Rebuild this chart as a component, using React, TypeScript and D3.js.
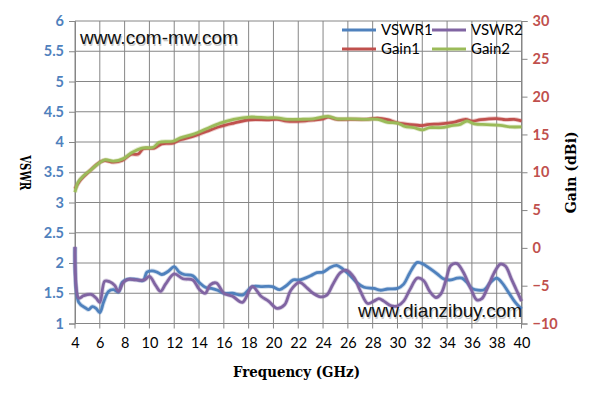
import React, { useEffect } from "react";
import * as d3 from "d3";

// frequency ticks (GHz)
const freqTicks = [4, 6, 8, 10, 12, 14, 16, 18, 20, 22, 24, 26, 28, 30, 32, 34, 36, 38, 40];
const vswrTicks = [1, 1.5, 2, 2.5, 3, 3.5, 4, 4.5, 5, 5.5, 6];
const gainTicks = [-10, -5, 0, 5, 10, 15, 20, 25, 30];

const vswr1Freq = [4, 4.3, 4.9, 5.1, 5.4, 5.7, 6, 6.3, 6.7, 7.1, 7.5, 7.8, 8.2, 8.9, 9.5, 9.8, 10.2, 10.6, 11, 11.5, 12, 12.4, 12.8, 13.5, 14, 14.5, 15, 15.5, 16, 16.7, 17.5, 18.3, 19.1, 19.9, 20.5, 21, 21.6, 22.1, 23, 23.5, 24, 24.6, 25.1, 25.6, 26.2, 26.7, 27.3, 28.1, 28.6, 29.2, 30, 30.5, 31, 31.6, 32.1, 32.6, 33.2, 33.7, 34.3, 34.8, 35.2, 35.6, 36, 36.5, 37, 37.5, 38, 38.4, 39, 39.5, 40];
const vswr1 = [2.26, 1.35, 1.25, 1.23, 1.28, 1.25, 1.18, 1.35, 1.53, 1.56, 1.52, 1.68, 1.73, 1.73, 1.71, 1.85, 1.87, 1.85, 1.81, 1.86, 1.94, 1.85, 1.81, 1.79, 1.68, 1.6, 1.58, 1.55, 1.5, 1.5, 1.47, 1.61, 1.61, 1.61, 1.56, 1.62, 1.72, 1.72, 1.79, 1.84, 1.85, 1.93, 1.96, 1.9, 1.79, 1.68, 1.6, 1.58, 1.55, 1.57, 1.58, 1.65, 1.84, 2.01, 1.98, 1.91, 1.82, 1.74, 1.72, 1.75, 1.75, 1.68, 1.58, 1.55, 1.56, 1.68, 1.75, 1.68, 1.5, 1.35, 1.24];

const vswr2Freq = [4, 4.3, 4.7, 5.3, 5.7, 6, 6.4, 6.8, 7.2, 7.5, 7.9, 8.3, 8.9, 9.6, 10, 10.5, 10.9, 11.3, 12, 12.7, 13.5, 14, 14.5, 14.9, 15.4, 16, 16.7, 17.5, 18.3, 19, 19.6, 20.3, 20.9, 21.4, 22.1, 22.7, 23.2, 23.8, 24.3, 24.8, 25.4, 25.9, 26.5, 27, 27.6, 28.1, 28.5, 28.9, 29.5, 30, 30.5, 31, 31.6, 32.1, 32.6, 33.1, 33.5, 33.9, 34.3, 34.8, 35.3, 35.9, 36.4, 36.8, 37.2, 37.8, 38.3, 38.7, 39.2, 39.6, 40];
const vswr2 = [2.27, 1.42, 1.46, 1.48, 1.42, 1.35, 1.7, 1.69, 1.63, 1.53, 1.68, 1.73, 1.72, 1.72, 1.78, 1.63, 1.53, 1.65, 1.82, 1.74, 1.72, 1.57, 1.5, 1.64, 1.67, 1.5, 1.45, 1.35, 1.61, 1.45, 1.37, 1.25, 1.31, 1.55, 1.68, 1.59, 1.5, 1.44, 1.47, 1.65, 1.84, 1.88, 1.76, 1.54, 1.33, 1.37, 1.41, 1.37, 1.29, 1.29, 1.37, 1.56, 1.75, 1.71, 1.53, 1.43, 1.49, 1.71, 1.96, 1.99, 1.85, 1.58, 1.39, 1.41, 1.56, 1.84, 1.98, 1.95, 1.73, 1.55, 1.37];

const gain1Freq = [4, 4.4, 5.2, 6, 6.4, 7.1, 7.8, 8.5, 9.1, 9.5, 10.4, 11, 11.9, 12.5, 13.5, 14.6, 15.7, 16.8, 18.1, 19.5, 20.3, 21.1, 22.2, 23.2, 24, 24.4, 25.1, 26.2, 27.5, 28.4, 29.2, 30, 31, 32, 32.4, 33.5, 34.5, 35.5, 36, 36.7, 38, 38.7, 39.4, 40];
const gain1 = [7.8, 8.9, 10.2, 11.33, 11.55, 11.33, 11.55, 12.35, 12.4, 13.1, 13.2, 13.76, 13.85, 14.3, 14.73, 15.4, 16.05, 16.5, 16.94, 16.94, 17.0, 16.75, 16.75, 16.9, 17.07, 17.3, 17.0, 17.0, 17.0, 17.15, 16.95, 16.54, 16.3, 16.18, 16.3, 16.4, 16.6, 17.0, 16.75, 16.95, 17.1, 16.95, 17.0, 16.8];

const gain2Freq = [4, 4.25, 4.65, 5.2, 5.7, 6.4, 7.1, 7.9, 8.55, 9.4, 10.3, 10.8, 11.9, 12.5, 13.5, 14.6, 15.7, 16.8, 18.1, 19.5, 20.3, 21.1, 22.2, 23.2, 24.4, 25.1, 26.2, 27.5, 28.4, 29.2, 30, 30.6, 31.3, 32, 32.6, 33.5, 34.5, 35, 35.6, 36.2, 37.2, 38.3, 39.1, 40];
const gain2 = [7.35, 8.68, 9.47, 10.2, 10.9, 11.64, 11.46, 11.8, 12.57, 13.2, 13.3, 13.97, 14.1, 14.55, 15.0, 15.75, 16.5, 17.0, 17.3, 17.2, 17.2, 17.0, 17.0, 17.07, 17.4, 17.07, 17.07, 17.0, 17.0, 16.6, 16.5, 16.05, 15.9, 15.6, 15.9, 15.9, 16.2, 16.3, 16.75, 16.4, 16.3, 16.2, 16.0, 16.0];

const seriesNames = ["VSWR1", "VSWR2", "Gain1", "Gain2"];
const seriesColors = ["#4F81BD", "#8064A2", "#C0504D", "#9BBB59"];

function createChart(container: string) {
  d3.select(container).select("svg").remove();
  const W = 595,
    H = 404;
  const margin = { top: 21, right: 74, bottom: 81, left: 75 };

  const svg = d3
    .select(container)
    .append("svg")
    .attr("width", W)
    .attr("height", H)
    .style("position", "absolute")
    .style("left", "0px")
    .style("top", "0px")
    .style("background", "#fff");

  const x = d3
    .scaleLinear()
    .domain([4, 40])
    .range([margin.left, W - margin.right + 0.5]);
  const yV = d3
    .scaleLinear()
    .domain([1, 6])
    .range([H - margin.bottom + 0.5, margin.top]);
  const yG = d3
    .scaleLinear()
    .domain([-10, 30])
    .range([H - margin.bottom + 0.5, margin.top]);

  const grid = "#868686";
  const tickFont = "Lato, 'Open Sans', sans-serif";
  const titleFont = "'DejaVu Serif', 'Liberation Serif', serif";

  // gridlines
  svg
    .append("g")
    .selectAll("line")
    .data(vswrTicks)
    .join("line")
    .attr("x1", x(4))
    .attr("x2", x(40))
    .attr("y1", (d) => yV(d))
    .attr("y2", (d) => yV(d))
    .attr("stroke", grid)
    .attr("stroke-width", 1);
  svg
    .append("g")
    .selectAll("line")
    .data(freqTicks)
    .join("line")
    .attr("x1", (d) => x(d))
    .attr("x2", (d) => x(d))
    .attr("y1", yV(6))
    .attr("y2", yV(1) + 5)
    .attr("stroke", grid)
    .attr("stroke-width", 1);

  // left axis
  const left = svg
    .append("g")
    .attr("transform", `translate(${x(4)},0)`)
    .call(d3.axisLeft(yV).tickValues(vswrTicks).tickSize(6).tickPadding(5).tickFormat(d3.format("")));
  left.select(".domain").attr("stroke", grid);
  left.selectAll(".tick line").attr("stroke", grid);
  left
    .selectAll(".tick text")
    .attr("fill", "#4F81BD")
    .attr("font-family", tickFont)
    .attr("font-weight", "bold")
    .attr("font-size", 14.5);

  // right axis
  const right = svg
    .append("g")
    .attr("transform", `translate(${x(40)},0)`)
    .call(d3.axisRight(yG).tickValues(gainTicks).tickSize(6).tickPadding(5));
  right.select(".domain").attr("stroke", grid);
  right.selectAll(".tick line").attr("stroke", grid);
  right
    .selectAll(".tick text")
    .attr("fill", "#C0504D")
    .attr("font-family", tickFont)
    .attr("font-weight", "bold")
    .attr("font-size", 14.5);

  // bottom axis labels
  const bottom = svg
    .append("g")
    .attr("transform", `translate(0,${yV(1)})`)
    .call(d3.axisBottom(x).tickValues(freqTicks).tickSize(0).tickPadding(14));
  bottom.select(".domain").remove();
  bottom
    .selectAll(".tick text")
    .attr("fill", "#000")
    .attr("font-family", tickFont)
    .attr("font-size", 14.5);

  // series
  const line = d3
    .line<[number, number]>()
    .x((d) => x(d[0]))
    .y((d) => d[1])
    .curve(d3.curveCatmullRom.alpha(0.5));

  const series: [number, number][][] = [
    vswr1Freq.map((f, i) => [f, yV(vswr1[i])]),
    vswr2Freq.map((f, i) => [f, yV(vswr2[i])]),
    gain1Freq.map((f, i) => [f, yG(gain1[i])]),
    gain2Freq.map((f, i) => [f, yG(gain2[i])]),
  ];

  series.forEach((s, i) => {
    svg
      .append("path")
      .attr("d", line(s))
      .attr("fill", "none")
      .attr("stroke", seriesColors[i])
      .attr("stroke-opacity", 0.3)
      .attr("stroke-width", 4.5)
      .attr("stroke-linejoin", "round");
    svg
      .append("path")
      .attr("d", line(s))
      .attr("fill", "none")
      .attr("stroke", seriesColors[i])
      .attr("stroke-width", 2.8)
      .attr("stroke-linejoin", "round");
  });

  // watermarks
  const marks = [
    { text: "www.com-mw.com", x: 80, y: 44, len: 158 },
    { text: "www.dianzibuy.com", x: 358, y: 317, len: 164 },
  ];
  marks.forEach((m) => {
    svg
      .append("text")
      .attr("x", m.x + 1)
      .attr("y", m.y + 1.5)
      .attr("font-family", "'Liberation Sans', Arial, sans-serif")
      .attr("font-size", 19)
      .attr("textLength", m.len)
      .attr("fill", "#999")
      .attr("fill-opacity", 0.5)
      .text(m.text);
    svg
      .append("text")
      .attr("x", m.x)
      .attr("y", m.y)
      .attr("font-family", "'Liberation Sans', Arial, sans-serif")
      .attr("font-size", 19)
      .attr("textLength", m.len)
      .attr("fill", "#111")
      .text(m.text);
  });

  // legend
  const legendPos = [
    [342, 30],
    [432, 30],
    [342, 49],
    [432, 49],
  ];
  seriesNames.forEach((name, i) => {
    const [lx, ly] = legendPos[i];
    svg
      .append("line")
      .attr("x1", lx)
      .attr("x2", lx + 34)
      .attr("y1", ly)
      .attr("y2", ly)
      .attr("stroke", seriesColors[i])
      .attr("stroke-width", 3);
    svg
      .append("text")
      .attr("x", lx + 39)
      .attr("y", ly + 5)
      .attr("font-family", tickFont)
      .attr("font-size", 15)
      .attr("fill", "#000")
      .text(name);
  });

  // axis titles
  svg
    .append("text")
    .attr("x", 233)
    .attr("y", 377)
    .attr("font-family", titleFont)
    .attr("font-weight", "bold")
    .attr("font-size", 14)
    .attr("textLength", 127)
    .attr("lengthAdjust", "spacingAndGlyphs")
    .text("Frequency (GHz)");
  svg
    .append("text")
    .attr("transform", `translate(20,${(yV(1) + yV(6)) / 2 - 17}) rotate(90)`)
    .attr("font-family", titleFont)
    .attr("font-weight", "bold")
    .attr("font-size", 14)
    .attr("textLength", 35)
    .attr("lengthAdjust", "spacingAndGlyphs")
    .text("VSWR");
  svg
    .append("text")
    .attr("transform", `translate(576,${(yV(1) + yV(6)) / 2 + 41}) rotate(-90)`)
    .attr("font-family", titleFont)
    .attr("font-weight", "bold")
    .attr("font-size", 14)
    .attr("textLength", 82)
    .attr("lengthAdjust", "spacingAndGlyphs")
    .text("Gain (dBi)");
}

export default function App() {
  useEffect(() => {
    createChart("#chart1");
  }, []);

  return <div id="chart1"></div>;
}
